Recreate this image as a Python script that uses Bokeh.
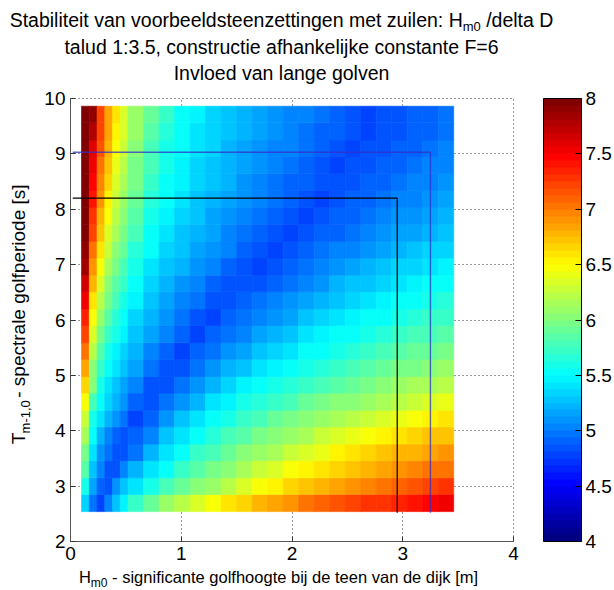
import math
from bokeh.plotting import figure
from bokeh.layouts import column, row
from bokeh.models import (ColumnDataSource, LinearColorMapper, ColorBar, FixedTicker, Range1d)
from bokeh.transform import transform
from bokeh.core.properties import value
from bokeh.embed import file_html
from bokeh.resources import INLINE

# ---------------- data ----------------
# cell edges of the stability map
H_edges = [0.10, 0.17, 0.24, 0.31, 0.38, 0.45, 0.52, 0.66, 0.80, 0.94, 1.08, 1.22, 1.36,
           1.50, 1.64, 1.78, 1.92, 2.06, 2.20, 2.34, 2.48, 2.62, 2.76, 2.90, 3.04, 3.18,
           3.32, 3.46]
T_edges = [2.54, 2.85, 3.15, 3.46, 3.76, 4.07, 4.37, 4.68, 4.98, 5.29, 5.59, 5.90, 6.20,
           6.51, 6.81, 7.12, 7.42, 7.73, 8.03, 8.34, 8.64, 8.95, 9.25, 9.56, 9.86]

# Hm0/delta D, one row per T band (bottom row first), one value per H band
R00 = [5.32, 4.98, 4.81, 5.02, 5.26, 5.47, 5.70, 5.90, 6.07, 6.22, 6.35, 6.46, 6.57, 6.66, 6.75, 6.84, 6.92, 7.00, 7.07, 7.13, 7.19, 7.25, 7.30, 7.35, 7.41, 7.47, 7.53]
R01 = [5.57, 5.17, 4.90, 4.83, 5.10, 5.30, 5.43, 5.61, 5.77, 5.90, 6.00, 6.12, 6.24, 6.36, 6.46, 6.56, 6.65, 6.73, 6.80, 6.87, 6.93, 6.99, 7.04, 7.10, 7.15, 7.20, 7.26]
R02 = [5.83, 5.25, 5.02, 4.86, 4.84, 5.00, 5.19, 5.38, 5.55, 5.70, 5.83, 5.95, 6.05, 6.15, 6.25, 6.35, 6.45, 6.53, 6.60, 6.68, 6.74, 6.80, 6.86, 6.91, 6.96, 7.01, 7.06]
R03 = [5.97, 5.39, 5.12, 4.97, 4.84, 4.85, 4.99, 5.21, 5.41, 5.56, 5.69, 5.80, 5.91, 6.00, 6.09, 6.18, 6.26, 6.35, 6.43, 6.50, 6.57, 6.64, 6.70, 6.76, 6.81, 6.86, 6.90]
R04 = [6.13, 5.50, 5.24, 5.06, 4.92, 4.84, 4.88, 5.06, 5.25, 5.41, 5.54, 5.66, 5.76, 5.86, 5.94, 6.02, 6.10, 6.17, 6.25, 6.32, 6.40, 6.46, 6.52, 6.58, 6.64, 6.69, 6.74]
R05 = [6.29, 5.62, 5.39, 5.23, 5.09, 4.97, 4.81, 4.93, 5.09, 5.26, 5.40, 5.52, 5.62, 5.71, 5.80, 5.88, 5.95, 6.02, 6.08, 6.15, 6.22, 6.28, 6.35, 6.41, 6.47, 6.52, 6.57]
R06 = [6.46, 5.77, 5.50, 5.33, 5.20, 5.08, 4.93, 4.83, 4.96, 5.10, 5.24, 5.38, 5.48, 5.57, 5.66, 5.74, 5.81, 5.88, 5.94, 6.00, 6.06, 6.12, 6.17, 6.23, 6.29, 6.35, 6.40]
R07 = [6.63, 6.00, 5.60, 5.42, 5.29, 5.18, 5.03, 4.86, 4.86, 4.97, 5.10, 5.22, 5.34, 5.44, 5.52, 5.60, 5.67, 5.74, 5.81, 5.87, 5.92, 5.98, 6.03, 6.08, 6.13, 6.18, 6.23]
R08 = [6.82, 6.06, 5.73, 5.53, 5.38, 5.27, 5.13, 4.97, 4.83, 4.87, 4.97, 5.08, 5.19, 5.30, 5.39, 5.47, 5.54, 5.61, 5.68, 5.74, 5.79, 5.85, 5.90, 5.94, 5.99, 6.03, 6.08]
R09 = [7.00, 6.19, 5.86, 5.62, 5.47, 5.35, 5.22, 5.06, 4.92, 4.80, 4.88, 4.97, 5.07, 5.17, 5.26, 5.36, 5.43, 5.50, 5.56, 5.62, 5.68, 5.73, 5.78, 5.83, 5.88, 5.92, 5.96]
R10 = [7.19, 6.34, 5.99, 5.74, 5.57, 5.44, 5.30, 5.15, 5.02, 4.90, 4.80, 4.88, 4.95, 5.04, 5.13, 5.21, 5.30, 5.38, 5.44, 5.50, 5.56, 5.61, 5.66, 5.71, 5.75, 5.80, 5.84]
R11 = [7.36, 6.47, 6.11, 5.85, 5.65, 5.52, 5.37, 5.22, 5.09, 4.98, 4.87, 4.81, 4.88, 4.95, 5.03, 5.10, 5.18, 5.26, 5.34, 5.40, 5.46, 5.51, 5.56, 5.61, 5.65, 5.70, 5.74]
R12 = [7.51, 6.61, 6.22, 5.95, 5.75, 5.60, 5.44, 5.29, 5.16, 5.05, 4.95, 4.85, 4.82, 4.88, 4.94, 5.01, 5.09, 5.16, 5.23, 5.30, 5.36, 5.42, 5.47, 5.52, 5.56, 5.61, 5.65]
R13 = [7.67, 6.77, 6.33, 6.06, 5.86, 5.69, 5.52, 5.35, 5.23, 5.12, 5.02, 4.93, 4.85, 4.82, 4.87, 4.93, 4.99, 5.06, 5.12, 5.19, 5.25, 5.31, 5.37, 5.42, 5.47, 5.51, 5.55]
R14 = [7.82, 6.92, 6.46, 6.17, 5.95, 5.79, 5.59, 5.42, 5.30, 5.19, 5.09, 5.01, 4.92, 4.85, 4.81, 4.86, 4.91, 4.97, 5.03, 5.09, 5.15, 5.20, 5.26, 5.32, 5.37, 5.42, 5.46]
R15 = [7.93, 7.06, 6.59, 6.28, 6.06, 5.89, 5.67, 5.50, 5.36, 5.26, 5.16, 5.08, 5.00, 4.92, 4.85, 4.81, 4.85, 4.89, 4.94, 5.00, 5.05, 5.11, 5.16, 5.21, 5.27, 5.32, 5.37]
R16 = [8.02, 7.19, 6.71, 6.37, 6.15, 5.96, 5.76, 5.55, 5.41, 5.31, 5.22, 5.13, 5.06, 4.98, 4.91, 4.85, 4.81, 4.85, 4.89, 4.93, 4.98, 5.03, 5.08, 5.13, 5.18, 5.23, 5.28]
R17 = [8.10, 7.30, 6.81, 6.46, 6.22, 6.04, 5.83, 5.61, 5.47, 5.36, 5.26, 5.18, 5.10, 5.03, 4.96, 4.90, 4.84, 4.81, 4.85, 4.88, 4.92, 4.97, 5.02, 5.07, 5.11, 5.16, 5.20]
R18 = [8.10, 7.39, 6.90, 6.54, 6.29, 6.11, 5.89, 5.65, 5.51, 5.39, 5.30, 5.22, 5.14, 5.07, 5.01, 4.95, 4.89, 4.83, 4.81, 4.85, 4.88, 4.92, 4.97, 5.01, 5.06, 5.10, 5.15]
R19 = [8.16, 7.48, 6.99, 6.63, 6.36, 6.17, 5.94, 5.72, 5.55, 5.44, 5.34, 5.26, 5.19, 5.11, 5.05, 4.99, 4.93, 4.88, 4.83, 4.82, 4.85, 4.88, 4.92, 4.96, 5.00, 5.04, 5.09]
R20 = [8.20, 7.55, 7.06, 6.70, 6.42, 6.22, 5.99, 5.76, 5.59, 5.47, 5.37, 5.29, 5.22, 5.15, 5.08, 5.02, 4.97, 4.91, 4.86, 4.81, 4.82, 4.86, 4.89, 4.93, 4.96, 5.00, 5.04]
R21 = [8.24, 7.60, 7.13, 6.76, 6.47, 6.27, 6.04, 5.81, 5.62, 5.50, 5.40, 5.32, 5.24, 5.18, 5.11, 5.05, 5.00, 4.94, 4.89, 4.84, 4.80, 4.83, 4.86, 4.90, 4.93, 4.97, 5.01]
R22 = [8.23, 7.75, 7.19, 6.82, 6.53, 6.32, 6.08, 5.85, 5.66, 5.53, 5.43, 5.34, 5.27, 5.21, 5.14, 5.08, 5.03, 4.98, 4.92, 4.88, 4.83, 4.81, 4.84, 4.87, 4.90, 4.93, 4.97]
R23 = [8.21, 7.89, 7.24, 6.87, 6.57, 6.36, 6.12, 5.88, 5.69, 5.56, 5.45, 5.36, 5.29, 5.23, 5.17, 5.10, 5.05, 5.00, 4.95, 4.90, 4.85, 4.81, 4.82, 4.85, 4.88, 4.91, 4.95]
stability = [R00, R01, R02, R03, R04, R05, R06, R07, R08, R09, R10, R11,
             R12, R13, R14, R15, R16, R17, R18, R19, R20, R21, R22, R23]

# limit lines drawn on the map
limit_black_H = [0.02, 2.95, 2.95]
limit_black_T = [8.20, 8.20, 2.52]
limit_blue_H = [0.02, 3.25, 3.25]
limit_blue_T = [9.03, 9.03, 2.52]

x_ticks = [0, 1, 2, 3, 4]
y_ticks = [2, 3, 4, 5, 6, 7, 8, 9, 10]
cbar_ticks = [4, 4.5, 5, 5.5, 6, 6.5, 7, 7.5, 8]
cbar_labels = ["4", "4.5", "5", "5.5", "6", "6.5", "7", "7.5", "8"]

title_1 = ("Stabiliteit van voorbeeldsteenzettingen met zuilen: H", "m0", " /delta D")
title_2 = "talud 1:3.5, constructie afhankelijke constante F=6"
title_3 = "Invloed van lange golven"
xlab = ("H", "m0", " - significante golfhoogte bij de teen van de dijk [m]")
ylab = ("T", "m-1,0", " - spectrale golfperiode [s]")

FONT = "Liberation Sans"

# ---------------- colour map (MATLAB jet, 64 levels) ----------------
def jet(n):
    out = []
    for i in range(n):
        v = i / (n - 1)
        r = min(1, max(0, 1.5 - abs(4 * v - 3)))
        g = min(1, max(0, 1.5 - abs(4 * v - 2)))
        b = min(1, max(0, 1.5 - abs(4 * v - 1)))
        out.append("#%02x%02x%02x" % (round(r * 255), round(g * 255), round(b * 255)))
    return out

pal = jet(64)
mapper = LinearColorMapper(palette=pal, low=4, high=8, low_color=pal[0], high_color=pal[-1])

# ---------------- main figure ----------------
p = figure(width=576, height=479, x_range=(0, 4), y_range=(2, 10),
           output_backend="svg", toolbar_location=None, title=None,
           min_border_left=32, min_border_right=101, min_border_top=10, min_border_bottom=26)
p.outline_line_color = "black"
p.outline_line_dash = "1 3"
p.outline_line_alpha = 0.8
p.background_fill_color = "white"
p.border_fill_color = "white"

left, right, bottom, top, val = [], [], [], [], []
for j, rw in enumerate(stability):
    for i, v in enumerate(rw):
        left.append(H_edges[i]); right.append(H_edges[i + 1])
        bottom.append(T_edges[j]); top.append(T_edges[j + 1])
        val.append(v)
src = ColumnDataSource(dict(left=left, right=right, bottom=bottom, top=top, v=val))
p.quad(left="left", right="right", bottom="bottom", top="top", source=src,
       fill_color=transform("v", mapper), line_color=transform("v", mapper), line_width=0.7)

p.line(limit_blue_H, limit_blue_T, line_color="#3030c8", line_alpha=0.75, line_width=1.4)
p.line(limit_black_H, limit_black_T, line_color="black", line_width=1.2)

for ax, tk in ((p.xaxis, x_ticks), (p.yaxis, y_ticks)):
    ax.ticker = FixedTicker(ticks=tk)
    ax.major_tick_in = 5
    ax.major_tick_out = 0
    ax.minor_tick_line_color = None
    ax.axis_line_color = "#555555"
    ax.major_tick_line_color = "#333333"
    ax.major_label_text_font = FONT
    ax.major_label_text_font_size = "19px"
    ax.major_label_text_color = "black"
    ax.major_label_standoff = 5

p.xgrid.ticker = FixedTicker(ticks=x_ticks)
p.ygrid.ticker = FixedTicker(ticks=y_ticks)
for g in (p.xgrid, p.ygrid):
    g.grid_line_color = "black"
    g.grid_line_dash = "1 3"
    g.grid_line_width = 1
    g.grid_line_alpha = 0.8

cb = ColorBar(color_mapper=mapper, ticker=FixedTicker(ticks=cbar_ticks),
              major_label_overrides={t: l for t, l in zip(cbar_ticks, cbar_labels)},
              width=38, height=443, padding=0, margin=0, location=(30, 0),
              bar_line_color="black", major_tick_line_color="black",
              major_tick_in=6, major_tick_out=0, minor_tick_line_color=None,
              major_label_text_font=FONT, major_label_text_font_size="19px",
              major_label_text_color="black", label_standoff=4,
              background_fill_color=None, border_line_color=None)
p.add_layout(cb, "right")

# ---------------- text panels ----------------
AW = {' ': 278, ',': 278, '-': 333, '.': 278, '/': 278, ':': 278, '=': 584, '[': 278, ']': 278,
      'A': 667, 'D': 722, 'F': 611, 'H': 722, 'I': 278, 'S': 667, 'T': 611,
      'a': 556, 'b': 556, 'c': 500, 'd': 556, 'e': 556, 'f': 278, 'g': 556, 'h': 556,
      'i': 222, 'j': 222, 'k': 500, 'l': 222, 'm': 833, 'n': 556, 'o': 556, 'p': 556,
      'r': 333, 's': 500, 't': 278, 'u': 556, 'v': 500, 'z': 500}

def text_w(s, size):
    return sum(AW.get(ch, 556) for ch in s) * size / 1000.0

def text_fig(w, h):
    f = figure(width=w, height=h, x_range=Range1d(0, w), y_range=Range1d(0, h),
               output_backend="svg", toolbar_location=None, title=None,
               x_axis_type=None, y_axis_type=None,
               min_border=0, min_border_left=0, min_border_right=0,
               min_border_top=0, min_border_bottom=0)
    f.outline_line_color = None
    f.grid.visible = False
    f.background_fill_color = "white"
    f.border_fill_color = "white"
    return f

def rich(f, parts, cx, cy, angle=0.0):
    total = sum(text_w(t, sz) for t, sz, d in parts)
    pos = -total / 2.0
    for t, sz, d in parts:
        lead = len(t) - len(t.lstrip(" "))
        pos += text_w(" " * lead, sz)
        s = t.lstrip(" ")
        if angle == 0:
            x, y = cx + pos, cy - d
        else:
            x, y = cx + d, cy + pos
        f.text(x=[x], y=[y], text=[s], angle=angle, text_font=value(FONT),
               text_font_size=value("%gpx" % sz), text_align="left",
               text_baseline="alphabetic", text_color="black")
        pos += text_w(s, sz)

# title panel: page y 0..88
tf = text_fig(614, 88)
rich(tf, [(title_1[0], 19.5, 0), (title_1[1], 13, 7), (title_1[2], 19.5, 0)], 281, 88 - 19)
rich(tf, [(title_2, 19.5, 0)], 281, 88 - 46)
rich(tf, [(title_3, 19.5, 0)], 281, 88 - 72)

# y label panel: page x 0..38, y 88..567
yf = text_fig(38, 479)
rich(yf, [(ylab[0], 19, 0), (ylab[1], 13, 7), (ylab[2], 19, 0)], 18, 567 - 330, angle=math.pi / 2)

# x label panel: page y 567..590
xf = text_fig(614, 23)
rich(xf, [(xlab[0], 16.5, 0), (xlab[1], 12, 6), (xlab[2], 16.5, 0)], 278, 590 - 576)

layout = column(tf, row(yf, p, spacing=0), xf, spacing=0)

open("out.html", "w").write(file_html(layout, INLINE))
